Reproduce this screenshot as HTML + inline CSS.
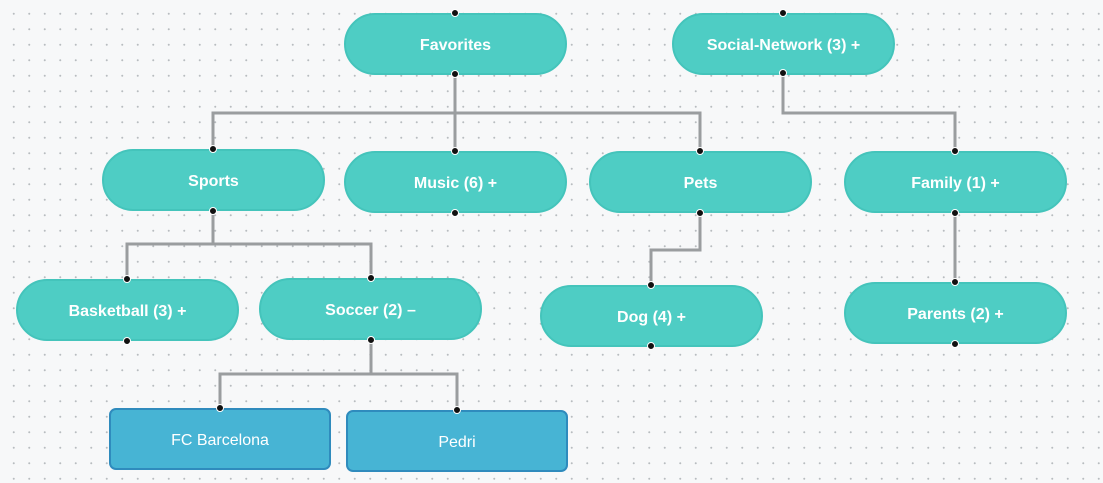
<!DOCTYPE html>
<html><head><style>
body{margin:0;width:1103px;height:483px;overflow:hidden;background:#f7f8f9;background-image:radial-gradient(circle,#b8bcc0 0.8px,transparent 1.2px);background-size:15.5px 15.5px;background-position:6px 6px;font-family:"Liberation Sans",sans-serif;position:relative}
.n{position:absolute;width:223px;height:62px;box-sizing:border-box;border-radius:31px;background:#4ecdc4;border:2px solid #44c4bb;color:#fff;font-weight:bold;font-size:16px;display:flex;align-items:center;justify-content:center;padding-top:3px}
.b{border-radius:7px;background:#47b4d4;border:2.5px solid #2f8bbd;font-weight:normal}
svg{position:absolute;left:0;top:0}
</style></head><body>
<svg width="1103" height="483">
<g fill="none" stroke="#9a9d9f" stroke-width="3">
<path d="M455 74V113M213 149V113H700V151M455 113V151"/>
<path d="M783 73V113H955V151"/>
<path d="M213 211V244M127 279V244H371V278"/>
<path d="M700 213V250H651V285"/>
<path d="M955 213V282"/>
<path d="M371 340V374M220 408V374H457V410"/>
</g>
</svg>
<div class="n" style="left:344px;top:13px">Favorites</div>
<div class="n" style="left:672px;top:13px">Social-Network (3) +</div>
<div class="n" style="left:102px;top:149px">Sports</div>
<div class="n" style="left:344px;top:151px">Music (6) +</div>
<div class="n" style="left:589px;top:151px">Pets</div>
<div class="n" style="left:844px;top:151px">Family (1) +</div>
<div class="n" style="left:16px;top:279px">Basketball (3) +</div>
<div class="n" style="left:259px;top:278px">Soccer (2) –</div>
<div class="n" style="left:540px;top:285px">Dog (4) +</div>
<div class="n" style="left:844px;top:282px">Parents (2) +</div>
<div class="n b" style="left:109px;top:408px;width:222px">FC Barcelona</div>
<div class="n b" style="left:346px;top:410px;width:222px">Pedri</div>
<svg width="1103" height="483">
<g fill="#111" stroke="#fff" stroke-width="1">
<circle cx="455" cy="13" r="3.5"/><circle cx="455" cy="74" r="3.5"/>
<circle cx="783" cy="13" r="3.5"/><circle cx="783" cy="73" r="3.5"/>
<circle cx="213" cy="149" r="3.5"/><circle cx="213" cy="211" r="3.5"/>
<circle cx="455" cy="151" r="3.5"/><circle cx="455" cy="213" r="3.5"/>
<circle cx="700" cy="151" r="3.5"/><circle cx="700" cy="213" r="3.5"/>
<circle cx="955" cy="151" r="3.5"/><circle cx="955" cy="213" r="3.5"/>
<circle cx="127" cy="279" r="3.5"/><circle cx="127" cy="341" r="3.5"/>
<circle cx="371" cy="278" r="3.5"/><circle cx="371" cy="340" r="3.5"/>
<circle cx="651" cy="285" r="3.5"/><circle cx="651" cy="346" r="3.5"/>
<circle cx="955" cy="282" r="3.5"/><circle cx="955" cy="344" r="3.5"/>
<circle cx="220" cy="408" r="3.5"/><circle cx="457" cy="410" r="3.5"/>
</g>
</svg>
</body></html>
